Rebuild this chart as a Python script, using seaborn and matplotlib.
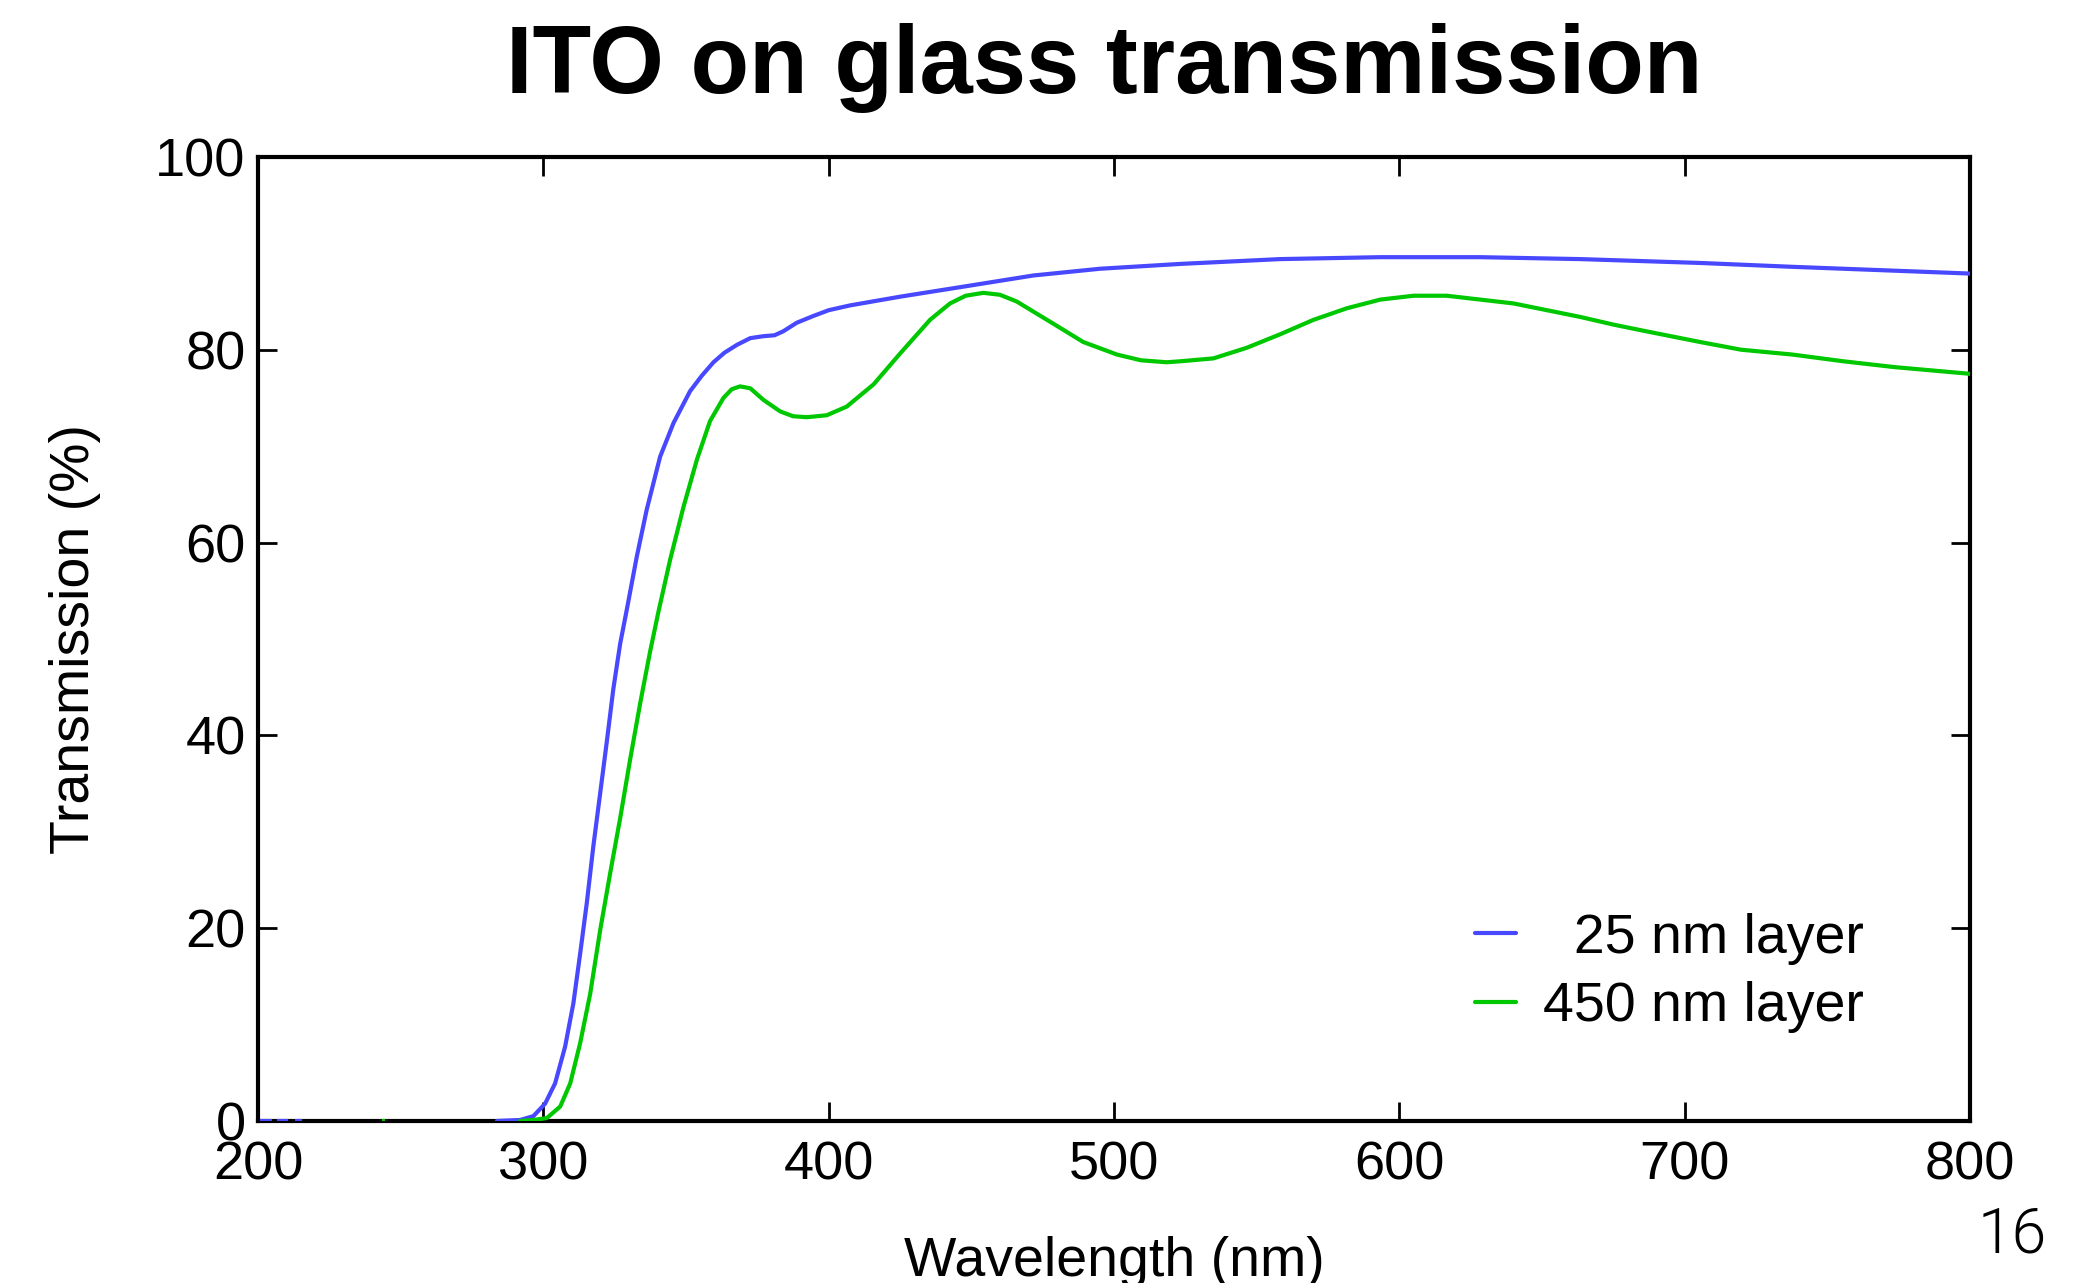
import matplotlib
matplotlib.use("Agg")
import matplotlib.pyplot as plt
from matplotlib.lines import Line2D
import pandas as pd
import seaborn as sns

# Transmission spectra of ITO films on glass
thin_wavelength = [283.7, 291.8, 296.5, 300.6, 304.1, 307.6, 310.5, 312.9, 315.2, 317.5,
                   319.9, 322.2, 324.5, 326.9, 329.2, 332.7, 336.2, 340.9, 345.6, 351.4,
                   355.5, 359.6, 363.5, 367.8, 372.5, 377.0, 381.0, 384.0, 388.8, 394.6,
                   400.0, 407.5, 425.0, 448.4, 471.7, 495.1, 523.2, 558.2, 593.3, 628.3,
                   663.4, 705.4, 737.7, 773.4, 800.0]
thin_transmission = [0.0, 0.1, 0.5, 1.8, 3.9, 7.7, 12.2, 17.4, 22.6, 28.5,
                     34.0, 39.3, 44.8, 49.5, 53.0, 58.5, 63.4, 68.9, 72.4, 75.7,
                     77.3, 78.7, 79.7, 80.5, 81.2, 81.4, 81.5, 81.9, 82.8, 83.5,
                     84.1, 84.6, 85.5, 86.6, 87.7, 88.4, 88.9, 89.4, 89.6, 89.6,
                     89.4, 89.0, 88.6, 88.2, 87.9]

thick_wavelength = [291.8, 296.5, 301.2, 305.9, 309.4, 312.9, 316.4, 319.9, 323.4, 326.9,
                    330.4, 333.9, 337.4, 340.3, 344.4, 349.1, 353.8, 358.4, 363.1, 366.0,
                    368.9, 372.5, 377.1, 383.0, 387.5, 392.3, 399.3, 406.3, 415.7, 425.0,
                    435.5, 442.5, 448.0, 454.2, 460.0, 465.9, 477.6, 489.2, 501.0, 509.5,
                    518.5, 523.2, 534.8, 546.5, 558.2, 569.9, 581.6, 593.3, 605.0, 616.6,
                    628.3, 640.0, 651.7, 663.4, 675.1, 686.7, 705.4, 719.8, 737.7, 755.6,
                    773.4, 800.0]
thick_transmission = [0.0, 0.1, 0.3, 1.5, 3.9, 8.1, 13.2, 19.8, 25.7, 31.4,
                      37.5, 43.3, 48.7, 52.8, 58.2, 63.7, 68.6, 72.6, 75.0, 75.9,
                      76.2, 76.0, 74.8, 73.6, 73.1, 73.0, 73.2, 74.1, 76.4, 79.6,
                      83.1, 84.8, 85.6, 85.9, 85.7, 85.0, 82.9, 80.8, 79.5, 78.9,
                      78.7, 78.8, 79.1, 80.2, 81.6, 83.1, 84.3, 85.2, 85.6, 85.6,
                      85.2, 84.8, 84.1, 83.4, 82.6, 81.9, 80.8, 80.0, 79.5, 78.8,
                      78.2, 77.5]

# Short stretches of the zero baseline where the signal sits at 0 %
thin_floor_segments = [(200.6, 204.9), (206.7, 210.5), (212.9, 215.4)]
thick_floor_segments = [(243.5, 244.6)]

series_labels = ["25 nm layer", "450 nm layer"]
legend_labels = ["\u200725 nm layer", "450 nm layer"]
series_colors = ["#4848FF", "#00C800"]

x_ticks = [200, 300, 400, 500, 600, 700, 800]
y_ticks = [0, 20, 40, 60, 80, 100]

df = pd.concat([
    pd.DataFrame({"wavelength": thin_wavelength, "transmission": thin_transmission,
                  "layer": series_labels[0]}),
    pd.DataFrame({"wavelength": thick_wavelength, "transmission": thick_transmission,
                  "layer": series_labels[1]}),
], ignore_index=True)

sns.set_theme(style="ticks")
plt.rcParams["font.family"] = ["Liberation Sans", "DejaVu Sans"]
plt.rcParams["text.color"] = "black"
plt.rcParams["axes.labelcolor"] = "black"
plt.rcParams["xtick.color"] = "black"
plt.rcParams["ytick.color"] = "black"

fig = plt.figure(figsize=(21, 12.83), dpi=100)
ax = fig.add_axes([0.1229, 0.1263, 0.8152, 0.7514])

palette = dict(zip(series_labels, series_colors))
sns.lineplot(data=df, x="wavelength", y="transmission", hue="layer",
             hue_order=series_labels, palette=palette, estimator=None, sort=True,
             linewidth=3, legend=False, ax=ax, zorder=3)

for segs, color in ((thin_floor_segments, series_colors[0]),
                    (thick_floor_segments, series_colors[1])):
    starts = [s for s, _ in segs]
    ends = [e for _, e in segs]
    ax.hlines([0] * len(segs), starts, ends, colors=color, linewidth=3, zorder=3)

ax.set_xlim(200, 800)
ax.set_ylim(0, 100)
ax.set_xticks(x_ticks)
ax.set_yticks(y_ticks)

for side in ("left", "right", "top", "bottom"):
    ax.spines[side].set_visible(True)
    ax.spines[side].set_linewidth(3)
    ax.spines[side].set_color("black")

ax.tick_params(axis="both", which="major", direction="in", length=14, width=2,
               color="black", labelsize=39, labelcolor="black",
               top=True, right=True)
ax.tick_params(axis="x", pad=14)
ax.tick_params(axis="y", pad=9)

ax.set_xlabel("Wavelength (nm)", fontsize=40, color="black")
ax.set_ylabel("Transmission (%)", fontsize=40, color="black")
ax.xaxis.set_label_coords(0.5, -0.119)
ax.yaxis.set_label_coords(-0.0916, 0.5)

handles = [Line2D([], [], color=c, linewidth=3) for c in series_colors]
leg = ax.legend(handles, legend_labels, loc="lower right",
                bbox_to_anchor=(0.938, 0.091), frameon=False, fontsize=40,
                handlelength=0.75, handletextpad=0.48, labelspacing=0.3,
                borderpad=0, borderaxespad=0)
for t in leg.get_texts():
    t.set_color("black")

fig.text(0.526, 0.9275, "ITO on glass transmission", ha="center", va="baseline",
         fontsize=69, fontweight="bold", color="black")
fig.text(0.9748, 0.0234, "16", ha="right", va="baseline", fontsize=45,
         fontweight=300, family=["Roboto", "DejaVu Sans"], color="black")

fig.savefig("out.png", dpi=100, facecolor="white")
